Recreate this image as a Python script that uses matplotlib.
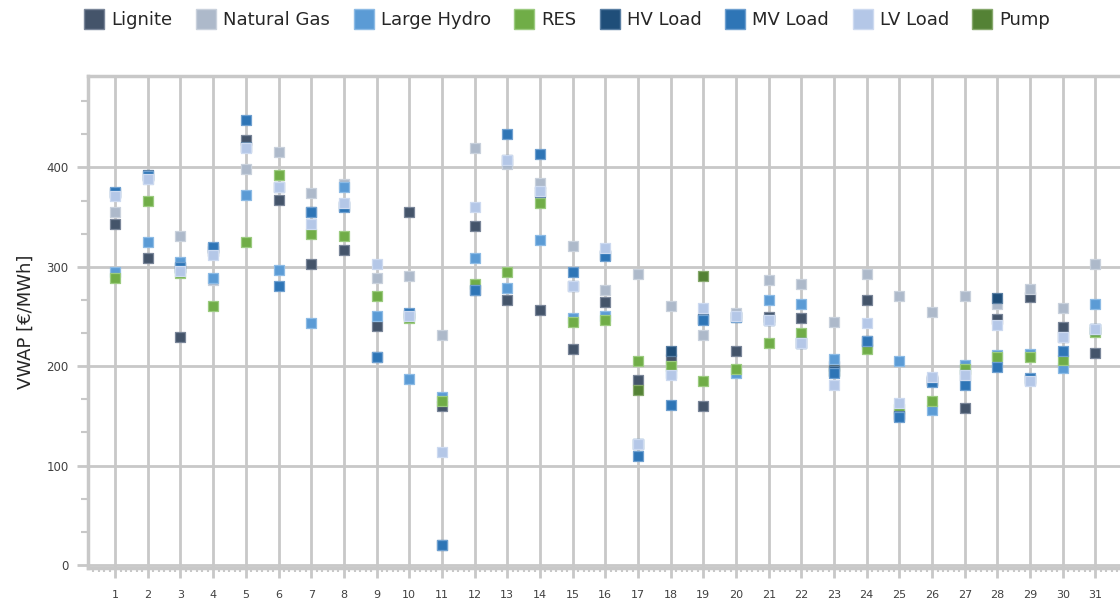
import numpy as np
import matplotlib
matplotlib.use("Agg")
import matplotlib.pyplot as plt
from matplotlib.ticker import MultipleLocator, FixedLocator
from matplotlib.lines import Line2D

nan = np.nan
days = list(range(1, 32))

lignite = [343, 309, 229, 316, 428, 367, 303, 317, 240, 355, 160, 341, 267, 257, 217, 265,
           186, 207, 160, 215, 250, 249, 200, 267, 152, 185, 158, 248, 270, 239, 213]
natural_gas = [355, 388, 331, 287, 398, 416, 374, 383, 289, 291, 231, 420, 403, 384, 321, 277,
               293, 261, 231, 254, 287, 283, 245, 293, 271, 255, 271, 263, 278, 259, 303]
large_hydro = [295, 325, 305, 289, 372, 297, 243, 380, 251, 187, 169, 309, 279, 327, 249, 251,
               122, 193, 248, 193, 267, 263, 207, 222, 205, 156, 201, 211, 212, 198, 263]
res = [289, 366, 294, 261, 325, 392, 333, 331, 271, 249, 165, 283, 295, 364, 245, 247,
       205, 200, 185, 197, 223, 233, 195, 217, 157, 165, 197, 209, 209, 206, 234]
hv_load = [374, 392, 299, 319, 421, 380, 355, 361, 209, 252, 20, 277, 407, 375, 281, 312,
           122, 215, 248, 250, 247, 223, 195, 225, 150, 186, 191, 269, 186, 229, 237]
mv_load = [375, 391, 300, 320, 448, 281, 355, 360, 209, 254, 20, 277, 434, 414, 295, 311,
           110, 161, 247, 250, 247, 223, 193, 225, 149, 184, 181, 199, 188, 215, 237]
lv_load = [371, 388, 296, 312, 420, 380, 343, 364, 303, 251, 114, 360, 407, 376, 281, 319,
           122, 191, 259, 251, 247, 223, 181, 243, 163, 189, 191, 241, 185, 229, 237]
pump = [nan, nan, nan, nan, nan, nan, nan, nan, nan, nan, nan, nan, nan, nan, nan, nan,
        176, nan, 291, nan, nan, nan, nan, nan, nan, nan, nan, nan, nan, nan, nan]

series_names = ["Lignite", "Natural Gas", "Large Hydro", "RES", "HV Load", "MV Load", "LV Load", "Pump"]
series_values = [lignite, natural_gas, large_hydro, res, hv_load, mv_load, lv_load, pump]
colors = ["#44546A", "#ADB9CA", "#5B9BD5", "#70AD47", "#1F4E79", "#2E75B6", "#B4C7E7", "#548235"]
edge_colors = ["#7A8699", "#C9D1DC", "#8DBBE5", "#9CCB80", "#5A7FA3", "#6FA0D0", "#CDDAF0", "#86A86C"]

y_ticks = [0, 100, 200, 300, 400]

plt.rcParams['font.family'] = ['DejaVu Sans']
fig = plt.figure(figsize=(11.2, 6.03), dpi=100)
ax = fig.add_axes([88 / 1120, 1 - 568 / 603, 1 - 88 / 1120, (568 - 76) / 603])

grid_c = "#C8C8C8"
for i, (name, vals, c, ec) in enumerate(zip(series_names, series_values, colors, edge_colors)):
    ax.scatter(days, vals, marker="s", s=58, color=c, edgecolors=ec, linewidths=0.9,
               zorder=3 + i, label=name)

ax.set_xlim(0.17, 31.75)
ax.set_ylim(-3, 492)

ax.xaxis.set_major_locator(FixedLocator(days))
ax.xaxis.set_minor_locator(MultipleLocator(1 / 6))
ax.yaxis.set_major_locator(FixedLocator(y_ticks))
ax.yaxis.set_minor_locator(MultipleLocator(100 / 3))
ax.set_xticklabels([str(d) for d in days])

ax.grid(True, which="major", axis="both", color=grid_c, linewidth=2.0, zorder=0)
ax.set_axisbelow(True)

for side in ["top", "left", "bottom"]:
    ax.spines[side].set_color(grid_c)
    ax.spines[side].set_linewidth(2.5)
ax.spines["right"].set_visible(False)

ax.tick_params(axis="x", which="major", length=7, width=2, color=grid_c, labelsize=8,
               labelcolor="#404040", pad=9)
ax.tick_params(axis="x", which="minor", length=3, width=1.5, color=grid_c)
ax.tick_params(axis="y", which="major", length=8, width=2, color=grid_c, labelsize=8.5,
               labelcolor="#404040", pad=6)
ax.tick_params(axis="y", which="minor", length=5, width=1.5, color=grid_c)

ax.set_ylabel("VWAP [€/MWh]", fontsize=13, color="#262626", labelpad=8)

handles = [Line2D([0], [0], marker="s", linestyle="none", markersize=15, markerfacecolor=c,
                  markeredgecolor=ec, markeredgewidth=1) for c, ec in zip(colors, edge_colors)]
fig.legend(handles, series_names, loc="center", bbox_to_anchor=(567 / 1120, 1 - 20 / 603),
           ncol=8, frameon=False, fontsize=13, handletextpad=0.35, columnspacing=1.25,
           handlelength=1.2, labelcolor="#262626")

fig.savefig("out.png", dpi=100)
